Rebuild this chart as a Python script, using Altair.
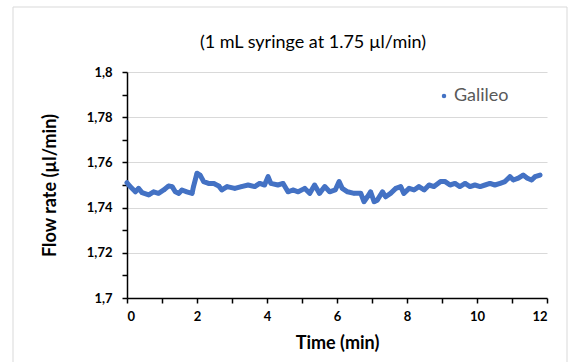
import altair as alt
import pandas as pd

# ---- data ----
time_min = [0.0, 0.09, 0.24, 0.33, 0.43, 0.62, 0.76, 0.9, 1.05, 1.19, 1.29, 1.38, 1.48, 1.57,
            1.71, 1.86, 1.9, 2.0, 2.09, 2.19, 2.33, 2.48, 2.62, 2.71, 2.86, 3.08, 3.27, 3.46,
            3.65, 3.79, 3.93, 4.03, 4.11, 4.31, 4.46, 4.6, 4.74, 4.89, 5.08, 5.22, 5.36, 5.5,
            5.65, 5.79, 5.95, 6.06, 6.15, 6.3, 6.49, 6.68, 6.77, 6.87, 6.96, 7.06, 7.15, 7.3,
            7.39, 7.53, 7.68, 7.82, 7.91, 8.06, 8.2, 8.34, 8.49, 8.63, 8.77, 8.96, 9.09, 9.23,
            9.37, 9.51, 9.66, 9.8, 9.94, 10.09, 10.23, 10.37, 10.51, 10.66, 10.8, 10.94, 11.04,
            11.18, 11.32, 11.44, 11.56, 11.66, 11.8]
flow_rate = [1.751, 1.7493, 1.747, 1.7485, 1.7466, 1.7456, 1.747, 1.7463, 1.7478, 1.7496,
             1.7493, 1.747, 1.7463, 1.7478, 1.747, 1.7463, 1.7493, 1.7552, 1.7544, 1.7515,
             1.7507, 1.7507, 1.7496, 1.7478, 1.7493, 1.7485, 1.7493, 1.75, 1.7493, 1.7507,
             1.75, 1.7537, 1.7507, 1.75, 1.7507, 1.747, 1.7478, 1.747, 1.7485, 1.7463, 1.75,
             1.7463, 1.7493, 1.747, 1.7478, 1.7515, 1.7485, 1.747, 1.7463, 1.7463, 1.7426,
             1.7448, 1.747, 1.7426, 1.7433, 1.747, 1.7448, 1.7463, 1.7485, 1.7493, 1.7463,
             1.7485, 1.7478, 1.7493, 1.7478, 1.75, 1.7493, 1.7515, 1.7515, 1.75, 1.7507,
             1.7493, 1.7507, 1.7493, 1.75, 1.7493, 1.75, 1.7507, 1.75, 1.7507, 1.7515, 1.7537,
             1.7522, 1.753, 1.7544, 1.753, 1.7522, 1.7537, 1.7544]
series_name = "Galileo"
x_ticks = [0, 1, 2, 3, 4, 5, 6, 7, 8, 9, 10, 11, 12]
y_ticks = [1.70, 1.71, 1.72, 1.73, 1.74, 1.75, 1.76, 1.77, 1.78, 1.79, 1.80]

df = pd.DataFrame({"Time": time_min, "Flow": flow_rate,
                   "Series": [series_name] * len(time_min)})

FONT = "Lato"
BLUE = "#4472C4"

x_enc = alt.X(
    "Time:Q",
    scale=alt.Scale(domain=[0, 12], nice=False, zero=False),
    axis=alt.Axis(
        title="Time (min)", values=x_ticks,
        labelExpr="datum.value % 2 == 0 ? datum.label : ''",
        grid=False, domainColor="black", domainWidth=1.5,
        tickColor="black", tickWidth=1.5, tickSize=5,
        labelFont=FONT, labelFontSize=13, labelFontWeight="bold", labelColor="black",
        labelPadding=7, titleFont=FONT, titleFontSize=18, titleFontWeight="bold",
        titleColor="black", titlePadding=11,
    ),
)
y_enc = alt.Y(
    "Flow:Q",
    scale=alt.Scale(domain=[1.70, 1.80], nice=False, zero=False),
    axis=alt.Axis(
        title="Flow rate (µl/min)", values=y_ticks,
        labelExpr="round(datum.value*100) % 2 == 0 ? replace(format(datum.value, '.2~f'), '.', ',') : ''",
        grid=True, gridColor="#d9d9d9", gridWidth=1,
        gridOpacity={"condition": {"test": "round(datum.value*100) % 2 == 0 && datum.value > 1.705",
                                   "value": 1}, "value": 0},
        domainColor="black", domainWidth=1.5,
        tickColor="black", tickWidth=1.5, tickSize=5,
        labelFont=FONT, labelFontSize=13, labelFontWeight="bold", labelColor="black",
        labelPadding=10, titleFont=FONT, titleFontSize=18, titleFontWeight="bold",
        titleColor="black", titleX=-68,
    ),
)

frame = alt.Chart(pd.DataFrame({"k": [0]})).mark_rect(
    filled=False, stroke="#d9d9d9", strokeWidth=1, clip=False
).encode(
    x=alt.value(-114), x2=alt.value(440), y=alt.value(-65), y2=alt.value(330)
)

line = alt.Chart(df).mark_line(
    color=BLUE, strokeWidth=5, strokeCap="round", strokeJoin="round"
).encode(x=x_enc, y=y_enc)

points = alt.Chart(df).mark_circle(size=18, opacity=1).encode(
    x=x_enc, y=y_enc,
    color=alt.Color(
        "Series:N",
        scale=alt.Scale(domain=[series_name], range=[BLUE]),
        legend=alt.Legend(
            orient="none", legendX=308, legendY=15, title=None,
            labelFont=FONT, labelFontSize=18, labelColor="#595959",
            symbolType="circle", symbolSize=20, padding=0, labelOffset=1,
        ),
    ),
)

chart = alt.layer(frame, line, points).properties(
    width=420, height=226,
    title=alt.TitleParams(
        "(1 mL syringe at 1.75 µl/min)", font=FONT, fontSize=18, fontWeight="normal",
        color="black", anchor="middle", frame="group", dx=-24, offset=-45,
    ),
    autosize=alt.AutoSizeParams(type="none"),
    padding={"left": 127, "top": 72, "right": 27, "bottom": 64},
    background="white",
).configure_view(stroke=None)

chart.save("out.html", embed_options={"renderer": "svg", "actions": False})
